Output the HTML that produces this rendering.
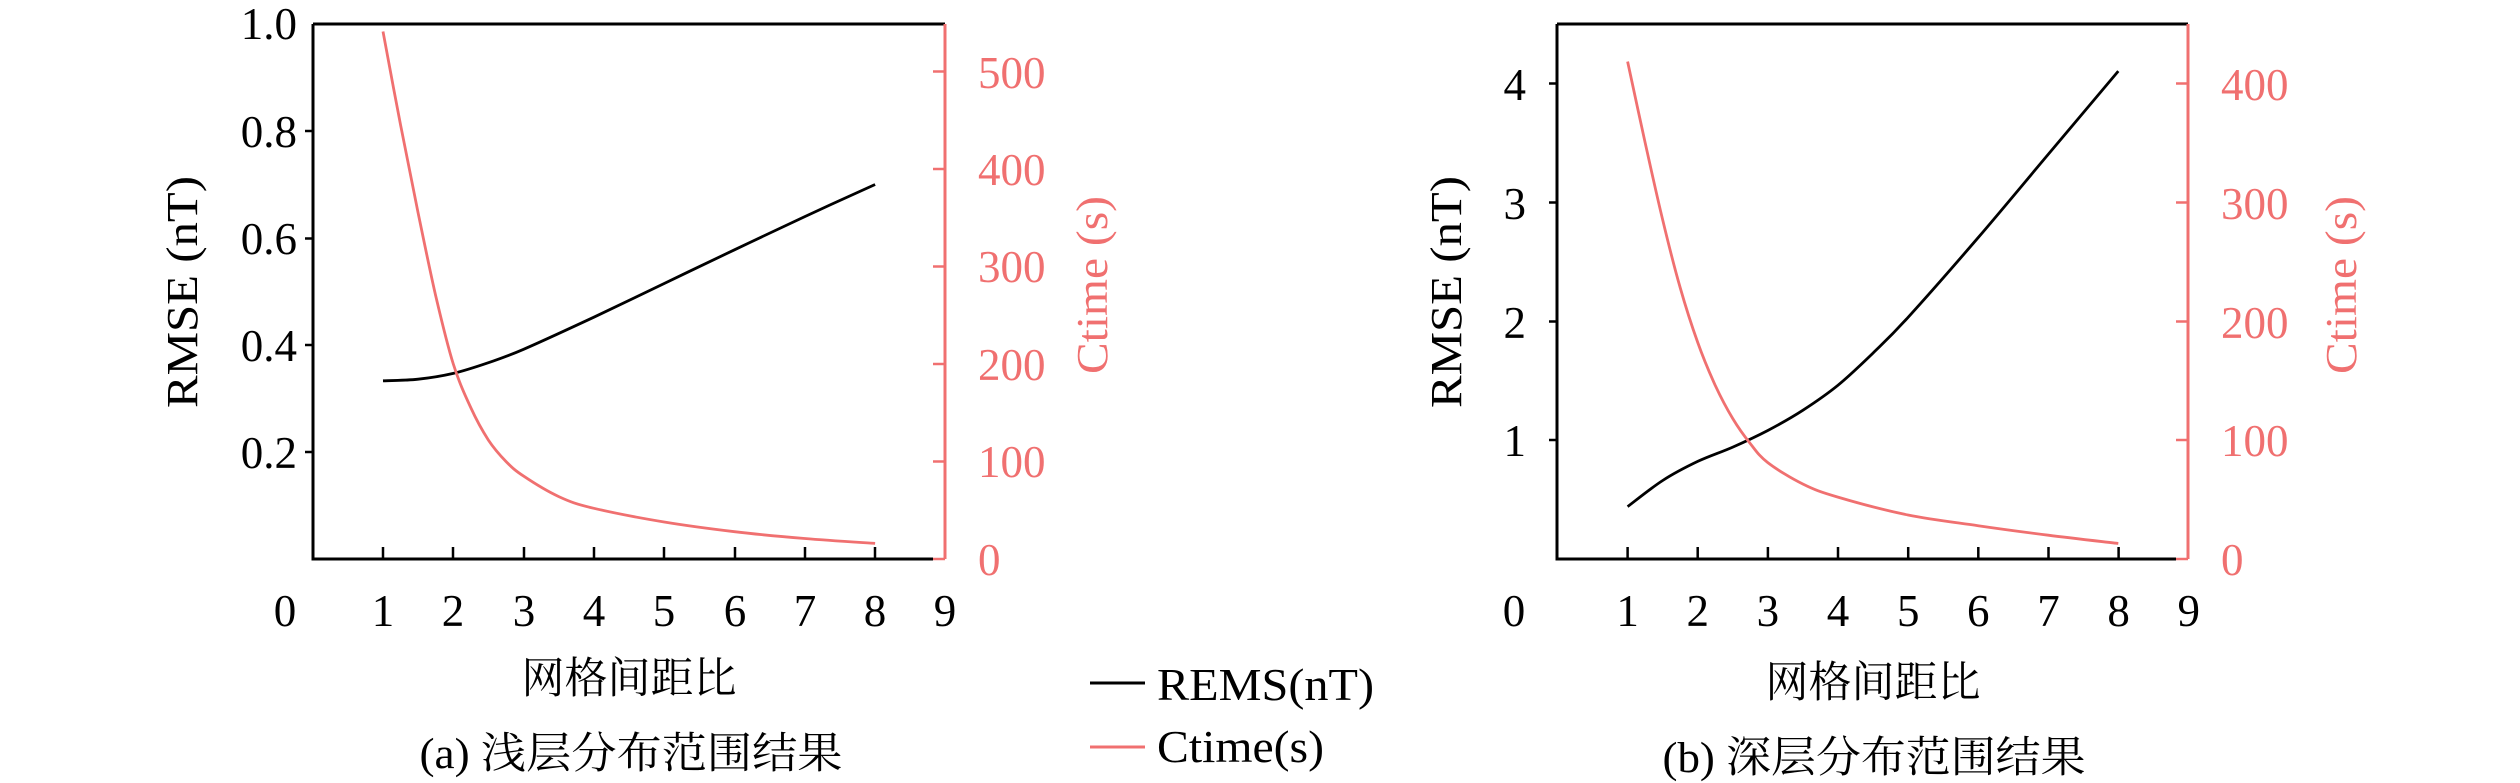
<!DOCTYPE html>
<html><head><meta charset="utf-8"><style>
html,body{margin:0;padding:0;background:#fff;}
svg{display:block;}
text{font-family:"Liberation Serif","Noto Serif CJK SC",serif;}
.cj{font-family:"Liberation Serif","Noto Serif CJK SC","Noto Sans CJK SC",serif;}
</style></head><body>
<svg id="s" width="2520" height="783" viewBox="0 0 2520 783" xmlns="http://www.w3.org/2000/svg">
<!-- Panel a -->
<g>
<path d="M313,24 H945 M313,24 V559 H933" stroke="#000" stroke-width="3" fill="none"/>
<line x1="945" y1="24" x2="945" y2="559" stroke="#f07070" stroke-width="3"/>
<g stroke="#000" stroke-width="2.5">
<line x1="305" y1="131" x2="313" y2="131"/><line x1="305" y1="238.5" x2="313" y2="238.5"/>
<line x1="305" y1="345" x2="313" y2="345"/><line x1="305" y1="452" x2="313" y2="452"/>
<line x1="383" y1="559" x2="383" y2="547"/><line x1="453" y1="559" x2="453" y2="547"/>
<line x1="524" y1="559" x2="524" y2="547"/><line x1="594" y1="559" x2="594" y2="547"/>
<line x1="664" y1="559" x2="664" y2="547"/><line x1="735" y1="559" x2="735" y2="547"/>
<line x1="805" y1="559" x2="805" y2="547"/><line x1="875" y1="559" x2="875" y2="547"/>
</g>
<g stroke="#f07070" stroke-width="2.5">
<line x1="933" y1="71.5" x2="945" y2="71.5"/><line x1="933" y1="169" x2="945" y2="169"/>
<line x1="933" y1="266.5" x2="945" y2="266.5"/><line x1="933" y1="364" x2="945" y2="364"/>
<line x1="933" y1="461.5" x2="945" y2="461.5"/><line x1="933" y1="559" x2="945" y2="559"/>
</g>
<g font-size="45" text-anchor="end" fill="#000">
<text x="297" y="39">1.0</text><text x="297" y="147">0.8</text><text x="297" y="254">0.6</text>
<text x="297" y="361">0.4</text><text x="297" y="468">0.2</text>
</g>
<g font-size="45" text-anchor="start" fill="#f07070">
<text x="978" y="88">500</text><text x="978" y="185">400</text><text x="978" y="282">300</text>
<text x="978" y="380">200</text><text x="978" y="477">100</text><text x="978" y="575">0</text>
</g>
<g font-size="45" text-anchor="middle" fill="#000">
<text x="285" y="626">0</text><text x="383" y="626">1</text><text x="453" y="626">2</text><text x="524" y="626">3</text>
<text x="594" y="626">4</text><text x="664" y="626">5</text><text x="735" y="626">6</text><text x="805" y="626">7</text>
<text x="875" y="626">8</text><text x="945" y="626">9</text>
</g>
<text x="182" y="292" font-size="44" text-anchor="middle" transform="rotate(-90 182 292)" dy="15" textLength="232" lengthAdjust="spacingAndGlyphs">RMSE (nT)</text>
<text x="1092" y="285" font-size="44" text-anchor="middle" fill="#f07070" transform="rotate(-90 1092 285)" dy="15" textLength="178" lengthAdjust="spacingAndGlyphs">Ctime (s)</text>
<text class="cj" x="629" y="693" font-size="43" text-anchor="middle">网格间距比</text>
<text class="cj" x="631" y="768" font-size="43" text-anchor="middle" textLength="423" lengthAdjust="spacingAndGlyphs">(a) 浅层分布范围结果</text>
<path id="a1" stroke="#000" stroke-width="2.8" fill="none"/>
<path id="a2" stroke="#f07070" stroke-width="2.8" fill="none"/>
</g>
<!-- Panel b -->
<g>
<path d="M1557,24 H2188 M1557,24 V559 H2176" stroke="#000" stroke-width="3" fill="none"/>
<line x1="2188" y1="24" x2="2188" y2="559" stroke="#f07070" stroke-width="3"/>
<g stroke="#000" stroke-width="2.5">
<line x1="1549" y1="83.5" x2="1557" y2="83.5"/><line x1="1549" y1="202.5" x2="1557" y2="202.5"/>
<line x1="1549" y1="321.5" x2="1557" y2="321.5"/><line x1="1549" y1="440" x2="1557" y2="440"/>
<line x1="1627.6" y1="559" x2="1627.6" y2="547"/><line x1="1697.7" y1="559" x2="1697.7" y2="547"/>
<line x1="1767.9" y1="559" x2="1767.9" y2="547"/><line x1="1838" y1="559" x2="1838" y2="547"/>
<line x1="1908.2" y1="559" x2="1908.2" y2="547"/><line x1="1978.3" y1="559" x2="1978.3" y2="547"/>
<line x1="2048.5" y1="559" x2="2048.5" y2="547"/><line x1="2118.6" y1="559" x2="2118.6" y2="547"/>
</g>
<g stroke="#f07070" stroke-width="2.5">
<line x1="2176" y1="83.5" x2="2188" y2="83.5"/><line x1="2176" y1="202.5" x2="2188" y2="202.5"/>
<line x1="2176" y1="321.5" x2="2188" y2="321.5"/><line x1="2176" y1="440" x2="2188" y2="440"/>
<line x1="2176" y1="559" x2="2188" y2="559"/>
</g>
<g font-size="45" text-anchor="end" fill="#000">
<text x="1526" y="100">4</text><text x="1526" y="219">3</text><text x="1526" y="338">2</text><text x="1526" y="456">1</text>
</g>
<g font-size="45" text-anchor="start" fill="#f07070">
<text x="2221" y="100">400</text><text x="2221" y="219">300</text><text x="2221" y="338">200</text>
<text x="2221" y="456">100</text><text x="2221" y="575">0</text>
</g>
<g font-size="45" text-anchor="middle" fill="#000">
<text x="1514" y="626">0</text><text x="1627.6" y="626">1</text><text x="1697.7" y="626">2</text><text x="1767.9" y="626">3</text>
<text x="1838" y="626">4</text><text x="1908.2" y="626">5</text><text x="1978.3" y="626">6</text><text x="2048.5" y="626">7</text>
<text x="2118.6" y="626">8</text><text x="2188.7" y="626">9</text>
</g>
<text x="1446" y="292" font-size="44" text-anchor="middle" transform="rotate(-90 1446 292)" dy="15" textLength="232" lengthAdjust="spacingAndGlyphs">RMSE (nT)</text>
<text x="2341" y="285" font-size="44" text-anchor="middle" fill="#f07070" transform="rotate(-90 2341 285)" dy="15" textLength="178" lengthAdjust="spacingAndGlyphs">Ctime (s)</text>
<text class="cj" x="1873" y="697" font-size="43" text-anchor="middle">网格间距比</text>
<text class="cj" x="1874" y="772" font-size="43" text-anchor="middle" textLength="423" lengthAdjust="spacingAndGlyphs">(b) 深层分布范围结果</text>
<path id="b1" stroke="#000" stroke-width="2.8" fill="none"/>
<path id="b2" stroke="#f07070" stroke-width="2.8" fill="none"/>
</g>
<!-- Legend -->
<line x1="1090" y1="683" x2="1145" y2="683" stroke="#000" stroke-width="3"/>
<line x1="1090" y1="747" x2="1145" y2="747" stroke="#f07070" stroke-width="3"/>
<text x="1157" y="700" font-size="46" textLength="217" lengthAdjust="spacingAndGlyphs">REMS(nT)</text>
<text x="1157" y="762" font-size="46" textLength="167" lengthAdjust="spacingAndGlyphs">Ctime(s)</text>
</svg>
<script>
function cr(pts){var d="M"+pts[0][0].toFixed(1)+","+pts[0][1].toFixed(1);
for(var i=0;i<pts.length-1;i++){var p0=pts[i-1]||pts[i],p1=pts[i],p2=pts[i+1],p3=pts[i+2]||p2;
var c1=[p1[0]+(p2[0]-p0[0])/6,p1[1]+(p2[1]-p0[1])/6],c2=[p2[0]-(p3[0]-p1[0])/6,p2[1]-(p3[1]-p1[1])/6];
d+=" C"+c1[0].toFixed(1)+","+c1[1].toFixed(1)+" "+c2[0].toFixed(1)+","+c2[1].toFixed(1)+" "+p2[0].toFixed(1)+","+p2[1].toFixed(1);}
return d;}
function mk(id,data,x0,ux,y0,uy){document.getElementById(id).setAttribute("d",cr(data.map(function(p){return [x0+p[0]*ux,y0-p[1]*uy];})));}
var ux=70.3;
mk("a1",[[1,0.333],[1.5,0.336],[2,0.347],[2.5,0.367],[3,0.392],[4,0.452],[5,0.515],[6,0.578],[7,0.64],[8,0.70]],312.7,ux,559,535);
mk("a2",[[1,541],[1.25,445],[1.5,355],[1.75,270],[2,200],[2.25,155],[2.5,122],[2.75,100],[3,85],[3.5,64],[4,52],[5,38],[6,28],[7,21],[8,16]],312.7,ux,559,0.975);
mk("b1",[[1,0.44],[1.5,0.66],[2,0.82],[2.5,0.94],[3,1.08],[3.5,1.25],[4,1.46],[4.5,1.73],[5,2.03],[6,2.7],[7,3.4],[8,4.1]],1557.5,70.1,559,119);
mk("b2",[[1,418],[1.25,350],[1.5,285],[1.75,228],[2,182],[2.25,146],[2.5,118],[2.75,97],[3,81],[3.5,63],[4,52],[5,37],[6,28],[7,20],[8,13]],1557.5,70.1,559,1.19);
</script>
</body></html>
